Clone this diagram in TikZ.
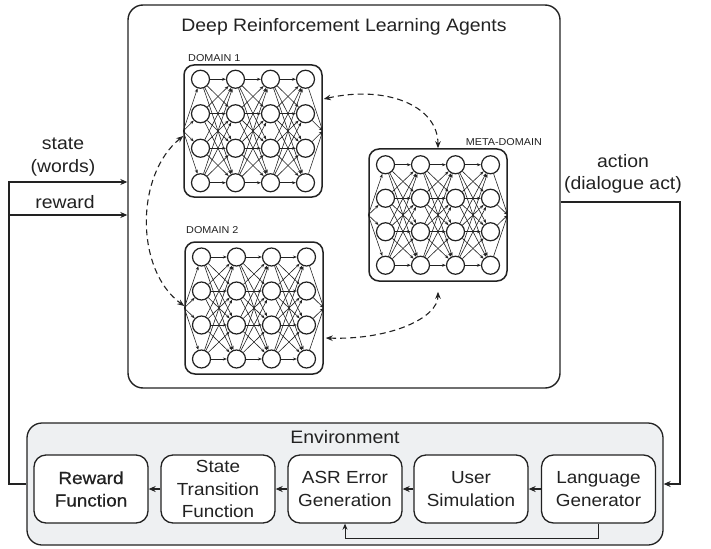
\documentclass[tikz,border=0pt]{standalone}
\usepackage{fontspec}
\setmainfont{Liberation Sans}[FakeStretch=1.08]
\newfontfamily\heavyfont{Liberation Sans}[FakeStretch=1.08,FakeBold=0.6]
\usetikzlibrary{arrows.meta,calc}
\definecolor{ink}{HTML}{222222}
\definecolor{envfill}{HTML}{EEF0F2}

\tikzset{
  netframe/.style={draw=ink, line width=1.5pt, rounded corners=10pt,
    minimum width=138pt, minimum height=132pt, inner sep=0pt},
  neuron/.style={draw=ink, circle, line width=1.2pt, minimum size=18pt, inner sep=0pt},
  synapse/.style={draw=ink, line width=0.6pt, -{Stealth[length=4pt,width=3pt]}},
  netlabel/.style={font=\fontsize{10}{12}\selectfont, text=ink, inner sep=0pt},
  transfer/.style={draw=ink, line width=1.1pt, dash pattern=on 6pt off 4pt,
    {Stealth[length=7pt,width=5.5pt]}-{Stealth[length=7pt,width=5.5pt]}},
  module/.style={draw=ink, line width=1.3pt, fill=white, rounded corners=12pt,
    minimum width=114pt, minimum height=68pt, align=center,
    font=\fontsize{17.5}{22.5}\selectfont, text=ink, inner sep=0pt},
  flow/.style={draw=ink, line width=1.2pt, -{Stealth[length=7pt,width=6pt]}},
  txt/.style={font=\fontsize{18}{22.5}\selectfont, text=ink, align=center, inner sep=0pt}
}

% a fully connected 4x4 network inside a rounded frame
% #1 name, #2 centre x, #3 centre y, #4 row spacing
\newcommand{\drawnet}[4]{%
  \node[netframe] (#1) at (#2,#3) {};
  \foreach \c in {1,...,4} {
    \foreach \r in {1,...,4} {
      \node[neuron] (#1-\c-\r) at ({#2+(\c-2.5)*35},{#3+(\r-2.5)*#4}) {};
    }
  }
  \foreach \c [count=\n from 2] in {1,2,3} {
    \foreach \r in {1,...,4} {
      \foreach \s in {1,...,4} {
        \draw[synapse] (#1-\c-\r) -- (#1-\n-\s);
      }
    }
  }
  \foreach \r in {1,...,4} {
    \draw[synapse] (#1.west) -- (#1-1-\r);
    \draw[synapse] (#1-4-\r) -- (#1.east);
  }
}

\begin{document}
\begin{tikzpicture}[x=1pt,y=-1pt]
\useasboundingbox (0,0) rectangle (711,548);

% agents panel
\node[draw=ink, line width=1.4pt, rounded corners=15pt, minimum width=432pt,
  minimum height=383pt, inner sep=0pt] (agents) at (344,196.5) {};
\node[txt] (agtitle) at (344,27) {Deep Reinforcement Learning Agents};

% the three networks
\drawnet{d1}{253}{131}{34.5}
\drawnet{d2}{254}{308}{34}
\drawnet{meta}{438}{215}{33.5}

\node[netlabel, anchor=west] (d1lab) at (188,58) {DOMAIN 1};
\node[netlabel, anchor=west] (d2lab) at (186,230) {DOMAIN 2};
\node[netlabel, anchor=east] (metalab) at (542,142) {META-DOMAIN};

% knowledge transfer between networks
\draw[transfer] ($(d1.west)+(0,5)$) .. controls (135,175) and (135,270) .. ($(d2.west)+(0,-2)$);
\draw[transfer] ($(d1.east)+(1,-32)$) .. controls (385,85) and (438,105) .. (meta.north);
\draw[transfer] ($(d2.east)+(2,30)$) .. controls (390,340) and (438,318) .. ($(meta.south)+(0,10)$);

% environment panel
\node[draw=ink, fill=envfill, line width=1.3pt, rounded corners=15pt,
  minimum width=636pt, minimum height=122pt, inner sep=0pt] (env) at (345,484) {};
\node[txt] (envtitle) at (345,437) {Environment};

\node[module, font=\fontsize{17.5}{22.5}\heavyfont] (rw) at (91,489) {Reward\\Function};
\node[module] (st) at (218,489) {State\\Transition\\Function};
\node[module] (asr) at (345,489) {ASR Error\\Generation};
\node[module] (us) at (471,489) {User\\Simulation};
\node[module] (lg) at (598.5,489) {Language\\Generator};

\draw[flow] (lg.west) -- (us.east);
\draw[flow] (us.west) -- (asr.east);
\draw[flow] (asr.west) -- (st.east);
\draw[flow] (st.west) -- (rw.east);

\coordinate (fb) at (0,538);
\draw[draw=ink, line width=1pt, -{Stealth[length=6pt,width=5pt]}]
  (lg.south) -- (lg.south |- fb) -- (asr.south |- fb) -- (asr.south);

% state and reward into the agents
\coordinate (lcorner) at (9,484);
\coordinate (stap) at (9,182);
\coordinate (rtap) at (9,215);
\draw[flow] (env.west) -- (lcorner) -- (stap) -- (stap -| agents.west);
\draw[flow] (rtap) -- (rtap -| agents.west);
\node[txt] (statelab) at (63,157) {state\\(words)};
\node[txt] (rewardlab) at (65,202) {reward};

% action into the environment
\coordinate (act) at (680,202);
\draw[flow] (act -| agents.east) -- (act) -- (act |- env.east) -- (env.east);
\node[txt] (actlab) at (623,174) {action\\(dialogue act)};
\end{tikzpicture}
\end{document}
